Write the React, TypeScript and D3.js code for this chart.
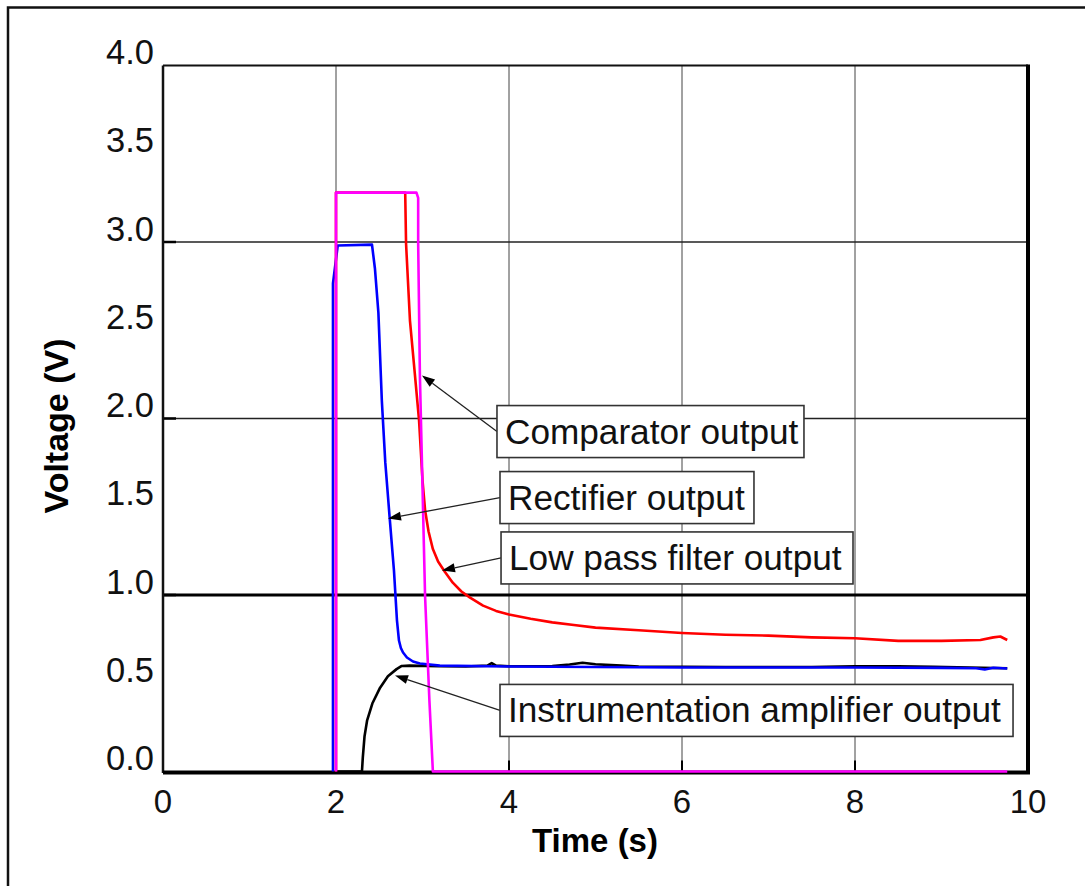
import React from "react";
import * as d3 from "d3";

// ---- data ----
const xTicks = [0, 2, 4, 6, 8, 10];
const yTicks = [0, 0.5, 1, 1.5, 2, 2.5, 3, 3.5, 4];
const xGrid = [2, 4, 6, 8];
const yGrid = [2, 3];
const yGridBold = [1];

type P = [number, number];

const instrumentationAmp: P[] = [
  [2.0, 0], [2.3, 0], [2.31, 0.08], [2.33, 0.2], [2.36, 0.29], [2.42, 0.385], [2.51, 0.475],
  [2.6, 0.54], [2.7, 0.58], [2.76, 0.598], [2.85, 0.6], [3.2, 0.596], [3.5, 0.595], [3.75, 0.6],
  [3.8, 0.614], [3.85, 0.6], [4.0, 0.596], [4.5, 0.598], [4.7, 0.606], [4.85, 0.616], [5.0, 0.608],
  [5.3, 0.6], [5.5, 0.595], [6.5, 0.592], [7.5, 0.592], [8.0, 0.596], [8.5, 0.596], [8.9, 0.593],
  [9.76, 0.585],
];

const rectifier: P[] = [
  [1.965, 0], [1.965, 2.765], [2.02, 2.98], [2.416, 2.985], [2.45, 2.85], [2.49, 2.6],
  [2.53, 2.1], [2.57, 1.75], [2.62, 1.44], [2.67, 1.14], [2.705, 0.855],
  [2.728, 0.742], [2.75, 0.7], [2.775, 0.674], [2.82, 0.646], [2.89, 0.623], [2.97, 0.612],
  [3.2, 0.6], [4.0, 0.595], [5.0, 0.592], [6.0, 0.589], [7.0, 0.589], [8.0, 0.589],
  [9.0, 0.587], [9.4, 0.585], [9.5, 0.578], [9.6, 0.588], [9.76, 0.584],
];

const lowPass: P[] = [
  [2.0, 0], [2.0, 3.28], [2.8, 3.28], [2.81, 2.99], [2.855, 2.555], [2.913, 2.244],
  [2.96, 1.99], [3.0, 1.65], [3.03, 1.48], [3.07, 1.36], [3.12, 1.26], [3.18, 1.19],
  [3.26, 1.13], [3.35, 1.07], [3.45, 1.02], [3.55, 0.985], [3.7, 0.94], [3.85, 0.91],
  [4.0, 0.89], [4.25, 0.865], [4.5, 0.845], [4.75, 0.83], [5.0, 0.815], [5.5, 0.8],
  [6.0, 0.785], [6.5, 0.775], [7.0, 0.77], [7.5, 0.76], [8.0, 0.755], [8.5, 0.74],
  [9.0, 0.74], [9.45, 0.745], [9.6, 0.76], [9.68, 0.765], [9.76, 0.745],
];

const comparator: P[] = [
  [2.0, 0], [2.0, 3.28], [2.93, 3.28], [2.95, 3.25], [2.95, 2.99], [2.97, 2.24],
  [3.03, 0.99], [3.08, 0.4], [3.12, 0], [9.76, 0],
];

const seriesList = [
  { name: "Instrumentation amplifier output", data: instrumentationAmp, color: "#000000" },
  { name: "Rectifier output", data: rectifier, color: "#0000ff" },
  { name: "Low pass filter output", data: lowPass, color: "#ff0000" },
  { name: "Comparator output", data: comparator, color: "#ff00ff" },
];

// annotations in data units: arrow tip, box left/right, box vertical centre
const annotations = [
  { label: "Comparator output", tipX: 2.994, tipY: 2.244, boxX0: 3.861, boxX1: 7.41, boxY: 1.926 },
  { label: "Rectifier output", tipX: 2.601, tipY: 1.433, boxX0: 3.896, boxX1: 6.832, boxY: 1.552 },
  { label: "Low pass filter output", tipX: 3.225, tipY: 1.139, boxX0: 3.908, boxX1: 7.977, boxY: 1.21 },
  { label: "Instrumentation amplifier output", tipX: 2.682, tipY: 0.544, boxX0: 3.896, boxX1: 9.827, boxY: 0.346 },
];

const W = 1085;
const H = 886;
const left = 163;
const right = 1028;
const top = 65.5;
const bottom = 771.5;
const FONT = "'Liberation Sans', Arial, Helvetica, sans-serif";

export default function App() {
  const x = d3.scaleLinear().domain([0, 10]).range([left, right]);
  const y = d3.scaleLinear().domain([0, 4]).range([bottom, top]);
  const line = d3
    .line<P>()
    .x((d) => x(d[0]))
    .y((d) => y(d[1]))
    .curve(d3.curveLinear);

  return (
    <svg
      width={W}
      height={H}
      viewBox={`0 0 ${W} ${H}`}
      style={{ position: "absolute", left: 0, top: 0, background: "#fff" }}
    >
      <rect x={0} y={0} width={W} height={H} fill="#fff" />
      {/* outer figure border */}
      <rect x={8} y={7.5} width={1100} height={900} fill="none" stroke="#111" strokeWidth={2.5} />

      {/* gridlines */}
      {xGrid.map((v) => (
        <line key={"gx" + v} x1={x(v)} x2={x(v)} y1={top} y2={bottom} stroke="#444" strokeWidth={1} />
      ))}
      {yGrid.map((v) => (
        <line key={"gy" + v} x1={left} x2={right} y1={y(v)} y2={y(v)} stroke="#222" strokeWidth={1.6} />
      ))}
      {yGridBold.map((v) => (
        <line key={"gb" + v} x1={left} x2={right} y1={y(v)} y2={y(v)} stroke="#000" strokeWidth={3} />
      ))}

      {/* inward ticks */}
      {[1, 2, 3].map((v) => (
        <line key={"ty" + v} x1={left} x2={left + 13} y1={y(v)} y2={y(v)} stroke="#000" strokeWidth={2.5} />
      ))}
      {xGrid.map((v) => (
        <line key={"tx" + v} x1={x(v)} x2={x(v)} y1={bottom} y2={bottom - 11} stroke="#000" strokeWidth={2} />
      ))}

      {/* plot frame */}
      <line x1={left} x2={right} y1={top} y2={top} stroke="#111" strokeWidth={1.8} />
      <line x1={left} x2={left} y1={top} y2={bottom + 1.5} stroke="#111" strokeWidth={2.5} />
      <line x1={right} x2={right} y1={top - 0.9} y2={bottom + 2.5} stroke="#000" strokeWidth={4} />
      <line x1={left} x2={right + 2} y1={bottom + 1} y2={bottom + 1} stroke="#000" strokeWidth={4} />

      {/* series */}
      {seriesList.map((s) => (
        <path
          key={s.name}
          d={line(s.data) || ""}
          fill="none"
          stroke={s.color}
          strokeWidth={2.6}
          strokeLinejoin="round"
        />
      ))}

      {/* annotations */}
      {annotations.map((a) => {
        const tx = x(a.tipX);
        const ty = y(a.tipY);
        const bx0 = x(a.boxX0);
        const bx1 = x(a.boxX1);
        const by = y(a.boxY);
        const ang = Math.atan2(ty - by, tx - bx0);
        const len = 13;
        const hw = 4.5;
        const baseX = tx - len * Math.cos(ang);
        const baseY = ty - len * Math.sin(ang);
        const px = -Math.sin(ang) * hw;
        const py = Math.cos(ang) * hw;
        return (
          <g key={a.label}>
            <line x1={bx0} y1={by} x2={baseX} y2={baseY} stroke="#222" strokeWidth={1.3} />
            <polygon
              points={`${tx},${ty} ${baseX + px},${baseY + py} ${baseX - px},${baseY - py}`}
              fill="#000"
            />
            <rect x={bx0} y={by - 26} width={bx1 - bx0} height={52} fill="#fff" stroke="#333" strokeWidth={1.6} />
            <text x={bx0 + 8} y={by + 12} fontFamily={FONT} fontSize={35.2} fill="#111">
              {a.label}
            </text>
          </g>
        );
      })}

      {/* y tick labels */}
      {yTicks.map((v) => (
        <text
          key={"yl" + v}
          x={154}
          y={y(v) - 1.5}
          textAnchor="end"
          fontFamily={FONT}
          fontSize={34.5}
          fill="#111"
        >
          {v.toFixed(1)}
        </text>
      ))}
      {/* x tick labels */}
      {xTicks.map((v) => (
        <text
          key={"xl" + v}
          x={x(v)}
          y={813}
          textAnchor="middle"
          fontFamily={FONT}
          fontSize={33}
          fill="#111"
        >
          {v}
        </text>
      ))}

      {/* axis titles */}
      <text x={595} y={852} textAnchor="middle" fontFamily={FONT} fontWeight="bold" fontSize={33} fill="#000">
        Time (s)
      </text>
      <text
        transform={`translate(68, 426) rotate(-90)`}
        textAnchor="middle"
        fontFamily={FONT}
        fontWeight="bold"
        fontSize={34}
        fill="#000"
      >
        Voltage (V)
      </text>
    </svg>
  );
}
